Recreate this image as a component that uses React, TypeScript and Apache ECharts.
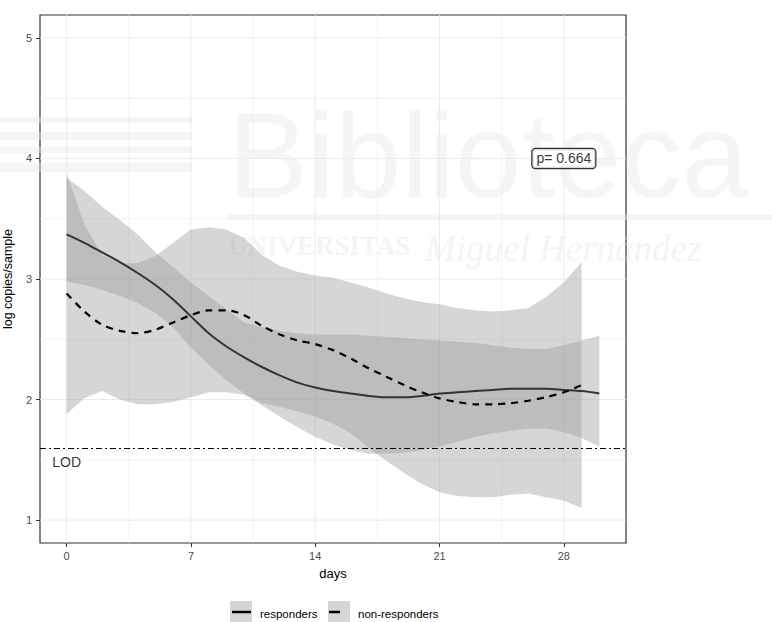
import React, { useEffect, useRef } from 'react';
import * as echarts from 'echarts';

// ---- data ----
const respDays = [0, 1, 2, 3, 4, 5, 6, 7, 8, 9, 10, 11, 12, 13, 14, 15, 16, 17, 18, 19, 20, 21, 22, 23, 24, 25, 26, 27, 28, 29, 30];
const respFit = [3.37, 3.30, 3.22, 3.14, 3.05, 2.95, 2.83, 2.69, 2.55, 2.44, 2.35, 2.27, 2.20, 2.14, 2.10, 2.07, 2.05, 2.03, 2.02, 2.02, 2.03, 2.05, 2.06, 2.07, 2.08, 2.09, 2.09, 2.09, 2.08, 2.07, 2.05];
const respUpper = [3.84, 3.73, 3.60, 3.49, 3.37, 3.22, 3.10, 2.97, 2.86, 2.75, 2.64, 2.60, 2.57, 2.55, 2.54, 2.54, 2.54, 2.53, 2.52, 2.51, 2.50, 2.49, 2.48, 2.47, 2.45, 2.43, 2.42, 2.42, 2.45, 2.49, 2.53];
const respLower = [2.98, 2.95, 2.91, 2.86, 2.80, 2.72, 2.60, 2.43, 2.29, 2.16, 2.05, 1.95, 1.86, 1.77, 1.69, 1.63, 1.58, 1.55, 1.55, 1.56, 1.58, 1.61, 1.65, 1.69, 1.72, 1.74, 1.76, 1.76, 1.73, 1.68, 1.61];

const nonDays = [0, 1, 2, 3, 4, 5, 6, 7, 8, 9, 10, 11, 12, 13, 14, 15, 16, 17, 18, 19, 20, 21, 22, 23, 24, 25, 26, 27, 28, 29];
const nonFit = [2.88, 2.73, 2.62, 2.57, 2.55, 2.58, 2.64, 2.70, 2.74, 2.74, 2.70, 2.61, 2.54, 2.49, 2.46, 2.41, 2.34, 2.26, 2.19, 2.12, 2.06, 2.01, 1.98, 1.96, 1.96, 1.97, 1.99, 2.02, 2.06, 2.12];
const nonUpper = [3.88, 3.45, 3.20, 3.13, 3.13, 3.19, 3.30, 3.41, 3.43, 3.41, 3.34, 3.20, 3.11, 3.06, 3.03, 3.01, 2.97, 2.93, 2.88, 2.84, 2.81, 2.79, 2.76, 2.74, 2.73, 2.74, 2.76, 2.85, 2.97, 3.14];
const nonLower = [1.88, 2.01, 2.07, 2.00, 1.96, 1.96, 1.98, 2.02, 2.06, 2.06, 2.04, 1.97, 1.94, 1.90, 1.86, 1.80, 1.72, 1.60, 1.49, 1.39, 1.30, 1.23, 1.20, 1.19, 1.19, 1.21, 1.22, 1.19, 1.16, 1.10];

const xTicks = [0, 7, 14, 21, 28];
const xMinor = [3.5, 10.5, 17.5, 24.5];
const yTicks = [1, 2, 3, 4, 5];
const yMinor = [1.5, 2.5, 3.5, 4.5];
const seriesNames = ['responders', 'non-responders'];
const lodValue = 1.6;
const lodLabel = 'LOD';
const lodLabelPos = [0, 1.48];
const pLabel = 'p= 0.664';
const pLabelPos = [28, 4];

const X_MIN = -1.5;
const X_MAX = 31.5;
const Y_MIN = 0.81;
const Y_MAX = 5.19;
const FONT = '"Liberation Sans", Arial, sans-serif';
const BAND_FILL = 'rgba(153,153,153,0.4)';

function bandSeries(name: string, xs: number[], lo: number[], hi: number[]) {
  return {
    type: 'custom',
    name,
    silent: true,
    z: 2,
    clip: true,
    data: [[xs[0], lo[0]]],
    encode: { x: 0, y: 1 },
    renderItem: (_p: any, api: any) => {
      const pts: number[][] = [];
      for (let i = 0; i < xs.length; i++) pts.push(api.coord([xs[i], hi[i]]));
      for (let i = xs.length - 1; i >= 0; i--) pts.push(api.coord([xs[i], lo[i]]));
      return { type: 'polygon', shape: { points: pts }, style: { fill: BAND_FILL } };
    },
  };
}

function gridSeries(vals: number[], dir: 'x' | 'y', width: number) {
  return {
    type: 'custom',
    silent: true,
    z: 1,
    data: vals.map((v) => (dir === 'x' ? [v, Y_MIN] : [X_MIN, v])),
    encode: { x: 0, y: 1 },
    renderItem: (_p: any, api: any) => {
      const v = api.value(dir === 'x' ? 0 : 1);
      const a = dir === 'x' ? api.coord([v, Y_MIN]) : api.coord([X_MIN, v]);
      const b = dir === 'x' ? api.coord([v, Y_MAX]) : api.coord([X_MAX, v]);
      return {
        type: 'line',
        shape: { x1: a[0], y1: a[1], x2: b[0], y2: b[1] },
        style: { stroke: '#ebebeb', lineWidth: width },
      };
    },
  };
}

export default function App() {
  const ref = useRef<HTMLDivElement>(null);
  useEffect(() => {
    if (!ref.current) return;
    const chart = echarts.init(ref.current, undefined, { renderer: 'svg' });
    const wm = '#e6e6e6';
    const wmOp = 0.42;
    chart.setOption({
      animation: false,
      backgroundColor: '#ffffff',
      textStyle: { fontFamily: FONT },
      grid: {
        left: 40, right: 146, top: 15, bottom: 79,
        containLabel: false,
        outerBoundsMode: 'none',
        show: true, borderColor: '#333333', borderWidth: 1.2, backgroundColor: 'transparent',
      },
      xAxis: {
        type: 'value',
        min: X_MIN,
        max: X_MAX,
        name: 'days',
        nameLocation: 'middle',
        nameGap: 24,
        nameTextStyle: { fontSize: 13, color: '#000', fontFamily: FONT },
        axisLine: { show: false, onZero: false },
        splitLine: { show: false },
        axisTick: { show: true, customValues: xTicks, length: 4, lineStyle: { color: '#333' } },
        axisLabel: { customValues: xTicks, color: '#4d4d4d', fontSize: 11, margin: 7, fontFamily: FONT },
      },
      yAxis: {
        type: 'value',
        min: Y_MIN,
        max: Y_MAX,
        name: 'log copies/sample',
        nameLocation: 'middle',
        nameRotate: 90,
        nameGap: 17,
        nameTextStyle: { fontSize: 12.5, color: '#000', fontFamily: FONT },
        axisLine: { show: false, onZero: false },
        splitLine: { show: false },
        axisTick: { show: true, customValues: yTicks, length: 4, lineStyle: { color: '#333' } },
        axisLabel: { customValues: yTicks, color: '#4d4d4d', fontSize: 11, margin: 8, fontFamily: FONT },
      },
      series: [
        gridSeries(xTicks, 'x', 1),
        gridSeries(xMinor, 'x', 0.6),
        gridSeries(yTicks, 'y', 1),
        gridSeries(yMinor, 'y', 0.6),
        bandSeries(seriesNames[0] + ' CI', respDays, respLower, respUpper),
        bandSeries(seriesNames[1] + ' CI', nonDays, nonLower, nonUpper),
        {
          type: 'line',
          name: seriesNames[0],
          data: respDays.map((d, i) => [d, respFit[i]]),
          smooth: 0.3,
          symbol: 'none',
          z: 4,
          lineStyle: { color: '#333333', width: 2 },
          markLine: {
            silent: true,
            symbol: ['none', 'none'],
            label: { show: false },
            lineStyle: { color: '#000', width: 1.1, type: [6, 3, 2, 3] },
            data: [{ yAxis: lodValue }],
          },
        },
        {
          type: 'line',
          name: seriesNames[1],
          data: nonDays.map((d, i) => [d, nonFit[i]]),
          smooth: 0.3,
          symbol: 'none',
          z: 4,
          lineStyle: { color: '#000000', width: 2.2, type: [7, 6] },
        },
        {
          type: 'scatter',
          silent: true,
          z: 5,
          symbolSize: 1,
          itemStyle: { color: 'transparent' },
          data: [lodLabelPos],
          label: { show: true, position: 'inside', formatter: lodLabel, fontSize: 14, color: '#000', fontFamily: FONT },
        },
        {
          type: 'scatter',
          silent: true,
          z: 6,
          symbolSize: 1,
          itemStyle: { color: 'transparent' },
          data: [pLabelPos],
          label: {
            show: true,
            position: 'inside',
            formatter: pLabel,
            fontSize: 14,
            color: '#000',
            fontFamily: FONT,
            backgroundColor: '#fff',
            borderColor: '#000',
            borderWidth: 1.2,
            borderRadius: 3,
            padding: [3, 4, 2, 4],
          },
        },
      ],
      graphic: [
        // legend
        { type: 'rect', shape: { x: 230, y: 601, width: 22, height: 23 }, style: { fill: '#d6d6d6' } },
        { type: 'line', shape: { x1: 232, y1: 612, x2: 251, y2: 612 }, style: { stroke: '#000', lineWidth: 2.5 } },
        { type: 'text', x: 260, y: 614, style: { text: seriesNames[0], fontSize: 11.5, fontFamily: FONT, fill: '#000', verticalAlign: 'middle' } },
        { type: 'rect', shape: { x: 328, y: 601, width: 22, height: 23 }, style: { fill: '#d6d6d6' } },
        { type: 'line', shape: { x1: 329, y1: 612, x2: 340, y2: 612 }, style: { stroke: '#000', lineWidth: 2.5 } },
        { type: 'text', x: 358, y: 614, style: { text: seriesNames[1], fontSize: 11.5, fontFamily: FONT, fill: '#000', verticalAlign: 'middle' } },
        // faint watermark
        {
          type: 'group',
          silent: true,
          z: 100,
          children: [
            { type: 'rect', shape: { x: 0, y: 117, width: 192, height: 6 }, style: { fill: wm, opacity: wmOp } },
            { type: 'rect', shape: { x: 0, y: 132, width: 192, height: 8 }, style: { fill: wm, opacity: wmOp } },
            { type: 'rect', shape: { x: 0, y: 147, width: 192, height: 6 }, style: { fill: wm, opacity: wmOp } },
            { type: 'rect', shape: { x: 0, y: 163, width: 192, height: 9 }, style: { fill: wm, opacity: wmOp } },
            { type: 'rect', shape: { x: 227, y: 214, width: 545, height: 6 }, style: { fill: wm, opacity: wmOp } },
            { type: 'text', x: 228, y: 155, style: { text: 'Biblioteca', fontSize: 120, lineHeight: 96, fontFamily: FONT, fill: wm, opacity: wmOp, verticalAlign: 'middle' } },
            { type: 'text', x: 228, y: 232, style: { text: 'UNIVERSITAS', fontSize: 27, fontWeight: 'bold', fontFamily: '"Liberation Serif", serif', fill: wm, opacity: wmOp, verticalAlign: 'top' } },
            { type: 'text', x: 425, y: 230, style: { text: 'Miguel Hernández', fontSize: 37, fontStyle: 'italic', fontFamily: '"Liberation Serif", serif', fill: wm, opacity: wmOp, verticalAlign: 'top' } },
          ],
        },
      ],
    });
    return () => chart.dispose();
  }, []);
  return <div ref={ref} style={{ position: 'absolute', left: 0, top: 0, width: 772, height: 622 }} />;
}
